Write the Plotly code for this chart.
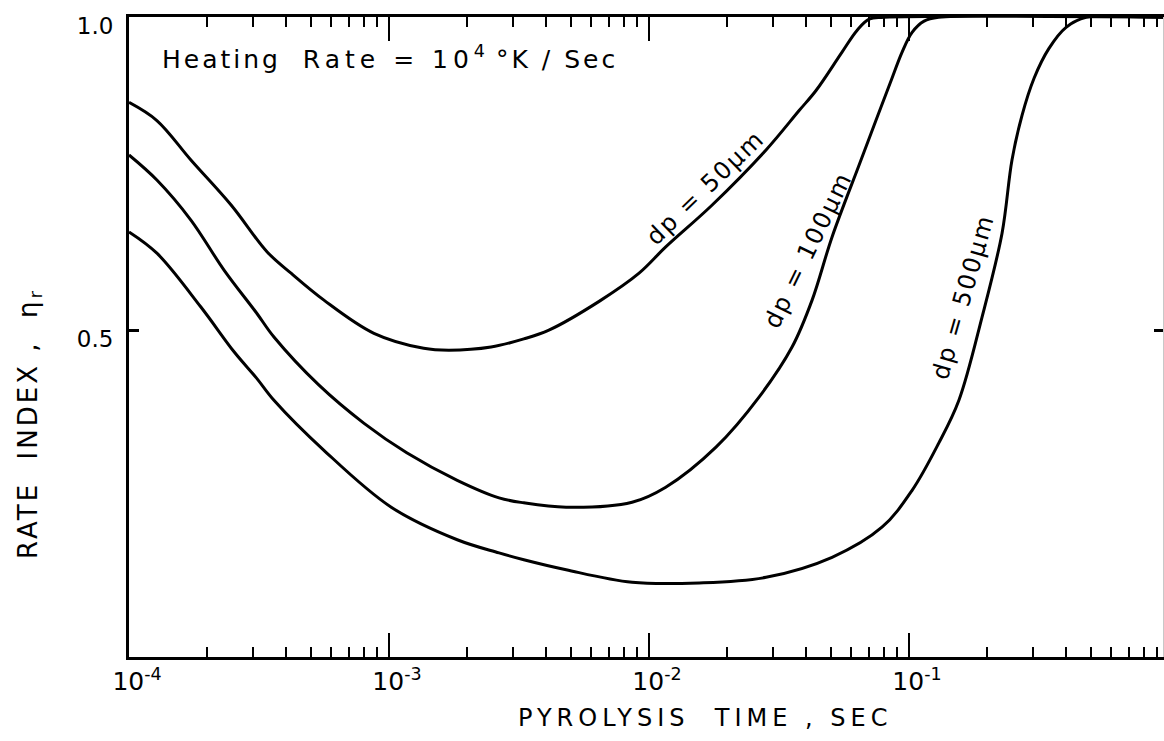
import plotly.graph_objects as go

# ---- data (time in s, rate index) ----
time_50 = [1.0e-4, 1.28e-4, 1.73e-4, 2.47e-4, 3.40e-4, 4.20e-4, 5.62e-4, 8.75e-4, 1.36e-3, 1.70e-3,
           2.47e-3, 3.30e-3, 4.12e-3, 6.43e-3, 9.16e-3, 1.16e-2, 1.75e-2, 2.82e-2, 3.78e-2,
           4.39e-2, 5.52e-2, 6.31e-2, 7.02e-2, 8.02e-2, 1.0]
eta_50 = [0.864, 0.835, 0.772, 0.700, 0.625, 0.591, 0.548, 0.495, 0.471, 0.468,
          0.473, 0.486, 0.500, 0.546, 0.591, 0.633, 0.700, 0.788, 0.851,
          0.883, 0.944, 0.979, 0.997, 1.0, 1.0]

time_100 = [1.0e-4, 1.28e-4, 1.73e-4, 2.32e-4, 3.10e-4, 3.61e-4, 5.38e-4, 8.02e-4, 1.17e-3,
            1.83e-3, 2.65e-3, 3.30e-3, 4.80e-3, 8.61e-3, 1.16e-2, 1.81e-2, 2.65e-2, 3.55e-2,
            4.24e-2, 5.06e-2, 6.43e-2, 7.46e-2, 8.61e-2, 9.40e-2, 0.1028, 0.1143, 0.130, 1.0]
eta_100 = [0.780, 0.740, 0.676, 0.596, 0.527, 0.489, 0.412, 0.351, 0.304,
           0.260, 0.232, 0.224, 0.217, 0.225, 0.249, 0.313, 0.393, 0.473,
           0.548, 0.649, 0.764, 0.835, 0.903, 0.944, 0.976, 0.994, 1.0, 1.0]

time_500 = [1.0e-4, 1.28e-4, 1.89e-4, 2.54e-4, 3.10e-4, 3.61e-4, 5.62e-4, 1.02e-3, 1.83e-3,
            2.65e-3, 3.30e-3, 4.80e-3, 8.61e-3, 1.56e-2, 2.82e-2, 5.06e-2, 7.87e-2, 0.1028,
            0.130, 0.1556, 0.191, 0.228, 0.249, 0.272, 0.303, 0.345, 0.402, 0.480, 1.0]
eta_500 = [0.657, 0.623, 0.537, 0.465, 0.423, 0.388, 0.308, 0.217, 0.165,
           0.144, 0.133, 0.117, 0.097, 0.096, 0.105, 0.137, 0.185, 0.244,
           0.319, 0.388, 0.521, 0.655, 0.772, 0.843, 0.903, 0.950, 0.984, 1.0, 1.0]

decades = [1e-4, 1e-3, 1e-2, 1e-1]
decade_labels = ["10<sup>-4</sup>", "10<sup>-3</sup>", "10<sup>-2</sup>", "10<sup>-1</sup>"]
y_tickvals = [0.5, 1.0]
y_ticktext = ["0.5", "1.0"]
curve_labels = ["dp = 50µm", "dp = 100µm", "dp = 500µm"]

minor_vals = [m * d for d in decades for m in range(2, 10)]

FONT = "DejaVu Sans"
NB = "\u00a0"


def spaced(text, px):
    return f'<span style="letter-spacing:{px}px">{text}</span>'


fig = go.Figure()
for t, e in [(time_50, eta_50), (time_100, eta_100), (time_500, eta_500)]:
    fig.add_trace(go.Scatter(x=t, y=e, mode="lines",
                             line=dict(color="black", width=3, shape="spline", smoothing=1.0),
                             showlegend=False, hoverinfo="skip", cliponaxis=True))
# invisible trace so the right-hand axis is drawn
fig.add_trace(go.Scatter(x=[time_50[0]], y=[eta_50[0]], yaxis="y2", mode="markers",
                         marker=dict(opacity=0), showlegend=False, hoverinfo="skip"))

YR = [-0.0224, 1.0005]
fig.update_layout(
    width=1164, height=741,
    margin=dict(l=129, r=1, t=17, b=84),
    paper_bgcolor="white", plot_bgcolor="white",
    font=dict(family=FONT, color="black"),
    xaxis=dict(type="log", range=[-4, -0.023], showline=True, linecolor="black", linewidth=3,
               mirror="ticks", ticks="inside", ticklen=24, tickwidth=2, tickcolor="black",
               tickmode="array", tickvals=decades, ticktext=decade_labels,
               tickfont=dict(size=25, family=FONT), ticklabelshift=8,
               showgrid=False, zeroline=False,
               minor=dict(tickmode="array", tickvals=minor_vals, ticks="inside", ticklen=10,
                          tickwidth=2, tickcolor="black", showgrid=False)),
    yaxis=dict(range=YR, showline=True, linecolor="black", linewidth=3,
               ticks="inside", ticklen=10, tickwidth=3, tickcolor="black",
               tickmode="array", tickvals=y_tickvals, ticktext=y_ticktext,
               tickfont=dict(size=23, family=FONT), ticklabelshift=9, ticklabelstandoff=8,
               showgrid=False, zeroline=False),
    yaxis2=dict(range=YR, overlaying="y", side="right", showline=True,
                linecolor="#c8c8c8", linewidth=1, ticks="inside", ticklen=9, tickwidth=3,
                tickcolor="black", tickmode="array", tickvals=[0.5], showticklabels=False,
                showgrid=False, zeroline=False),
)


def px(xp, yp):
    return (xp - 129) / 1034, (657 - yp) / 640


ann = []
hx, hy = px(160, 57)
ann.append(dict(xref="paper", yref="paper", x=hx, y=hy, xanchor="left", yanchor="middle",
                text=spaced(f"Heating{NB}{NB}", 3) + spaced(f"Rate{NB}={NB}10", 5)
                + "<sup>4</sup>" + spaced(f"{NB}°K{NB}/{NB}Sec", 3),
                showarrow=False, font=dict(size=25, family=FONT)))
for lab, (cx, cy), ang in zip(curve_labels, [(705, 188), (808, 250), (963, 297)], [-44, -64, -74]):
    ax_, ay_ = px(cx, cy)
    ann.append(dict(xref="paper", yref="paper", x=ax_, y=ay_, xanchor="center", yanchor="middle",
                    text=spaced(lab, 2), textangle=ang, showarrow=False,
                    font=dict(size=24, family=FONT)))
tx, ty = px(705, 718)
ann.append(dict(xref="paper", yref="paper", x=tx, y=ty, xanchor="center", yanchor="middle",
                text=spaced(f"PYROLYSIS{NB}{NB}TIME{NB},{NB}SEC", 5), showarrow=False,
                font=dict(size=24, family=FONT)))
yx, yy = px(29, 425)
ann.append(dict(xref="paper", yref="paper", x=yx, y=yy, xanchor="center", yanchor="middle",
                text=spaced(f"RATE{NB}{NB}INDEX{NB},{NB}{NB}η", 3) + "<sub>r</sub>",
                textangle=-90, showarrow=False, font=dict(size=26, family=FONT)))
fig.update_layout(annotations=ann)

fig.write_html("out.html")
